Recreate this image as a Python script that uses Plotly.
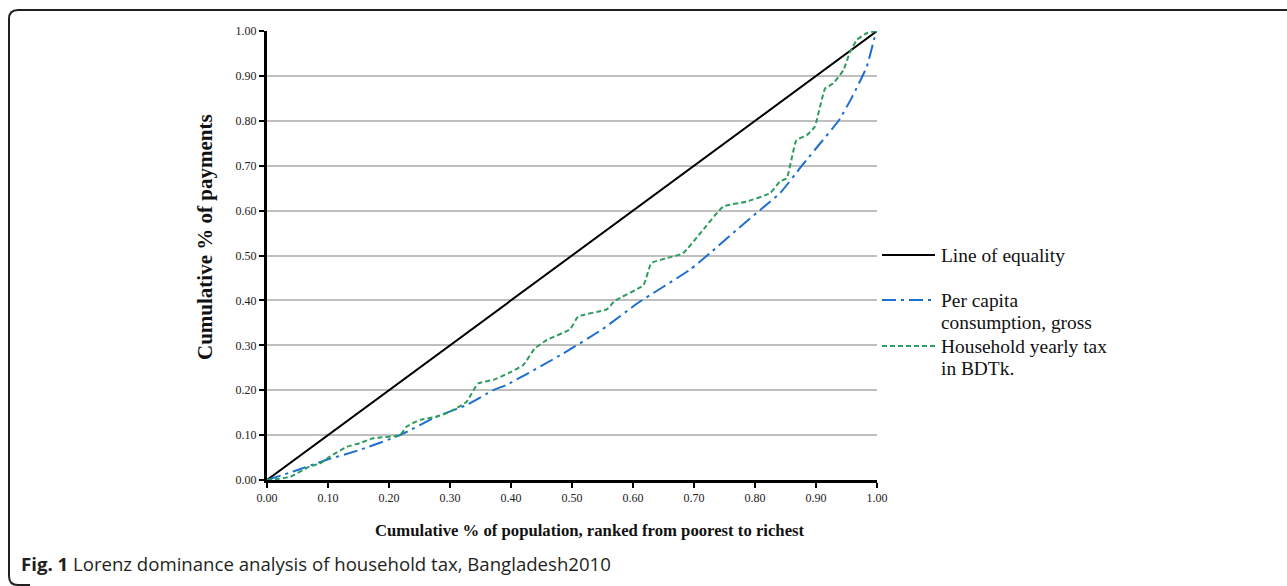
import plotly.graph_objects as go

# ---------------- data ----------------
equality_x = [0.0, 1.0]
equality_y = [0.0, 1.0]

consumption_x = [0.0, 0.043, 0.098, 0.152, 0.218, 0.278, 0.327, 0.371, 0.393, 0.486, 0.55,
                 0.611, 0.693, 0.726, 0.770, 0.808, 0.841, 0.877, 0.907, 0.937, 0.958,
                 0.983, 0.997, 1.0]
consumption_y = [0.0, 0.019, 0.045, 0.067, 0.100, 0.141, 0.167, 0.200, 0.212, 0.282, 0.336,
                 0.397, 0.468, 0.505, 0.557, 0.601, 0.639, 0.700, 0.750, 0.800, 0.850,
                 0.920, 0.990, 1.0]

tax_x = [0.0, 0.02, 0.038, 0.07, 0.087, 0.103, 0.131, 0.152, 0.174, 0.218, 0.229, 0.251,
         0.278, 0.300, 0.327, 0.346, 0.371, 0.396, 0.420, 0.439, 0.459, 0.497, 0.510,
         0.557, 0.570, 0.617, 0.630, 0.655, 0.682, 0.710, 0.748, 0.786, 0.825, 0.841,
         0.852, 0.868, 0.885, 0.898, 0.915, 0.928, 0.945, 0.956, 0.967, 0.983, 1.0]
tax_y = [0.0, 0.003, 0.007, 0.030, 0.037, 0.052, 0.074, 0.082, 0.093, 0.100, 0.119, 0.134,
         0.141, 0.152, 0.174, 0.215, 0.223, 0.238, 0.256, 0.293, 0.312, 0.336, 0.364,
         0.380, 0.399, 0.434, 0.483, 0.494, 0.505, 0.549, 0.609, 0.620, 0.639, 0.665,
         0.672, 0.757, 0.768, 0.787, 0.872, 0.883, 0.913, 0.954, 0.980, 0.995, 1.0]

series_names = ["Line of equality", "Per capita<br>consumption, gross", "Household yearly tax<br>in BDTk."]
tick_vals = [i / 10 for i in range(11)]
tick_text = [f"{v:.2f}" for v in tick_vals]

x_title = "Cumulative % of population, ranked from poorest to richest"
y_title = "Cumulative % of payments"
caption_bold = "Fig. 1"
caption_rest = " Lorenz dominance analysis of household tax, Bangladesh2010"

# ---------------- layout helpers ----------------
W, H = 1287, 586
L, R, T, B = 267, 877, 31, 480


def px(xp):
    return (xp - L) / (R - L)


def py(yp):
    return (B - yp) / (B - T)


BLACK = "#000000"
BLUE = "#1a6fcf"
GREEN = "#2e9b5f"
colors = [BLACK, BLUE, GREEN]
dashes = ["solid", "14px,5px,3px,5px", "5px,3px"]

fig = go.Figure()
fig.add_trace(go.Scatter(x=equality_x, y=equality_y, mode="lines", name=series_names[0],
                         line=dict(color=colors[0], width=2, dash=dashes[0]), showlegend=False))
fig.add_trace(go.Scatter(x=consumption_x, y=consumption_y, mode="lines", name=series_names[1],
                         line=dict(color=colors[1], width=2, dash=dashes[1], shape="spline", smoothing=0.5),
                         showlegend=False))
fig.add_trace(go.Scatter(x=tax_x, y=tax_y, mode="lines", name=series_names[2],
                         line=dict(color=colors[2], width=2, dash=dashes[2], shape="spline", smoothing=0.4),
                         showlegend=False))

tick_font = dict(family="Liberation Serif", size=12, color="#222")
fig.update_xaxes(range=[0, 1], tickvals=tick_vals, ticktext=tick_text, showgrid=False,
                 showline=True, linecolor=BLACK, linewidth=3, ticks="outside", ticklen=5,
                 tickwidth=2, tickcolor=BLACK, tickfont=tick_font, zeroline=False, fixedrange=True)
fig.update_yaxes(range=[0, 1], tickvals=tick_vals, ticktext=tick_text, showgrid=True,
                 gridcolor="#bfbfbf", gridwidth=2, showline=True, linecolor=BLACK, linewidth=3,
                 ticks="outside", ticklen=5, tickwidth=2, tickcolor=BLACK, tickfont=tick_font,
                 zeroline=False, fixedrange=True)

annotations = [
    dict(x=px(205), y=py(237), xref="paper", yref="paper", text=f"<b>{y_title}</b>",
         textangle=-90, showarrow=False, font=dict(family="Liberation Serif", size=21, color="#111"),
         xanchor="center", yanchor="middle"),
    dict(x=px(590), y=py(530), xref="paper", yref="paper", text=f"<b>{x_title}</b>",
         showarrow=False, font=dict(family="Liberation Serif", size=16.7, color="#111"),
         xanchor="center", yanchor="middle"),
    dict(x=px(19), y=py(563), xref="paper", yref="paper",
         text=f"<b>{caption_bold}</b>{caption_rest}", showarrow=False,
         font=dict(family="Open Sans", size=18.6, color="#231f20"), xanchor="left", yanchor="middle"),
]

shapes = []
# custom legend
legend_rows = [255, 300, 346]
line_gap = 22
for name, c, d, yr in zip(series_names, colors, dashes, legend_rows):
    shapes.append(dict(type="line", xref="paper", yref="paper", x0=px(882), x1=px(935),
                       y0=py(yr), y1=py(yr), line=dict(color=c, width=2, dash=d)))
    for k, part in enumerate(name.split("<br>")):
        annotations.append(dict(x=px(939), y=py(yr + k * line_gap), xref="paper", yref="paper",
                                text=part, showarrow=False, align="left", xanchor="left",
                                yanchor="middle",
                                font=dict(family="Liberation Serif", size=19.4, color="#111")))

# figure frame (rounded top-left, open on the right)
path = (f"M {px(1287)},{py(10)} L {px(18)},{py(10)} Q {px(9)},{py(10)} {px(9)},{py(19)} "
        f"L {px(9)},{py(576)} Q {px(9)},{py(585)} {px(18)},{py(585)} L {px(30)},{py(585)}")
shapes.append(dict(type="path", xref="paper", yref="paper", path=path,
                   line=dict(color="#231f20", width=2)))

fig.update_layout(width=W, height=H, margin=dict(l=L, r=W - R, t=T, b=H - B),
                  paper_bgcolor="white", plot_bgcolor="white", annotations=annotations,
                  shapes=shapes, showlegend=False)

fig.write_html("out.html", config={"displayModeBar": False})
